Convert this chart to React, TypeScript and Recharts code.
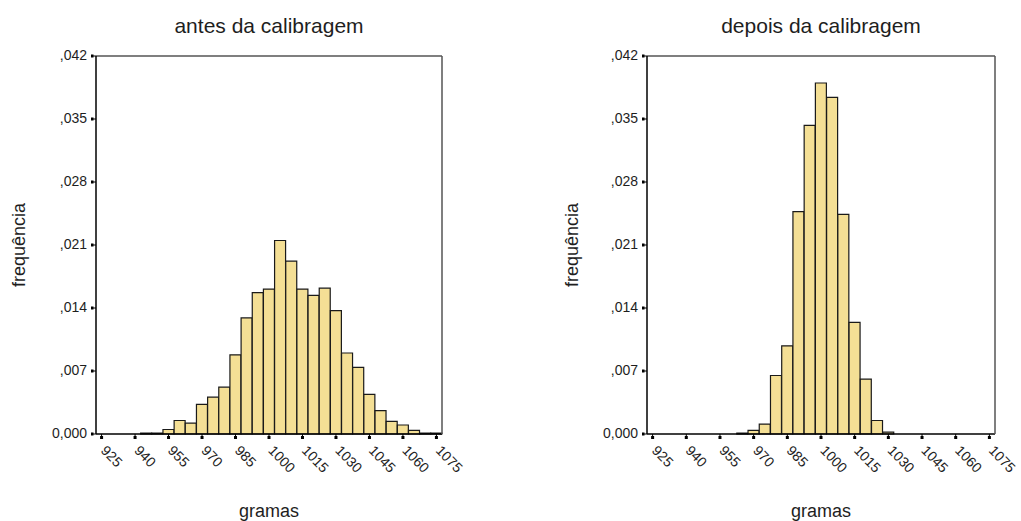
import { BarChart, Bar, XAxis, YAxis } from "recharts";

const FONT = "'Liberation Sans', Arial, sans-serif";
const BAR_FILL = "#f4df95";
const TEXT = "#1e1e1e";

// bin centres in grams (5 g bins)
const BINS = [
  925, 930, 935, 940, 945, 950, 955, 960, 965, 970, 975, 980, 985, 990, 995,
  1000, 1005, 1010, 1015, 1020, 1025, 1030, 1035, 1040, 1045, 1050, 1055,
  1060, 1065, 1070, 1075,
];
const X_TICKS = [925, 940, 955, 970, 985, 1000, 1015, 1030, 1045, 1060, 1075];
const Y_TICKS = [0, 0.007, 0.014, 0.021, 0.028, 0.035, 0.042];
const Y_TICK_LABELS = ["0,000", ",007", ",014", ",021", ",028", ",035", ",042"];

const ANTES = [
  0, 0, 0, 0, 0.0001, 0.0001, 0.0005, 0.0015, 0.0012, 0.0033, 0.0041, 0.0052,
  0.0088, 0.0129, 0.0157, 0.0161, 0.0215, 0.0192, 0.0161, 0.0154, 0.0162,
  0.0137, 0.009, 0.0074, 0.0044, 0.0026, 0.0014, 0.001, 0.0004, 0.0001, 0.0001,
];
const DEPOIS = [
  0, 0, 0, 0, 0, 0, 0, 0, 0.0001, 0.0004, 0.0011, 0.0065, 0.0098, 0.0247,
  0.0343, 0.039, 0.0374, 0.0244, 0.0124, 0.0061, 0.0015, 0.0002, 0, 0, 0, 0,
  0, 0, 0, 0, 0,
];

function XTick(props: any) {
  const { x, y, payload } = props;
  const tx = x + 6;
  const ty = y + 6;
  return (
    <g>
      <rect x={x - 1.5} y={y - 2} width={3} height={3} fill="#000" />
      <text
        x={tx}
        y={ty}
        transform={`rotate(46, ${tx}, ${ty})`}
        textAnchor="start"
        dominantBaseline="hanging"
        fontSize={14}
        fontFamily={FONT}
        fill={TEXT}
      >
        {payload.value}
      </text>
    </g>
  );
}

function YTick(props: any) {
  const { x, y, payload } = props;
  const idx = Y_TICKS.indexOf(payload.value);
  return (
    <g>
      <rect x={x} y={y - 1.5} width={2.5} height={3} fill="#000" />
      <text
        x={x - 4}
        y={y - 1}
        dy="0.35em"
        textAnchor="end"
        fontSize={14}
        fontFamily={FONT}
        fill={TEXT}
      >
        {Y_TICK_LABELS[idx]}
      </text>
    </g>
  );
}

interface PanelProps {
  title: string;
  values: number[];
  left: number;
  width: number;
  marginLeft: number;
  marginRight: number;
  yLabelX: number;
}

function Panel({ title, values, left, width, marginLeft, marginRight, yLabelX }: PanelProps) {
  const data = BINS.map((b, i) => ({ bin: b, freq: values[i] }));
  const plotLeft = marginLeft + 50;
  const plotRight = width - marginRight - 1;
  const centre = (plotLeft + plotRight) / 2;

  return (
    <div style={{ position: "absolute", left, top: 0, width, height: 521 }}>
      <BarChart
        width={width}
        height={521}
        data={data}
        barCategoryGap={0}
        margin={{ top: 55, right: marginRight, bottom: 47, left: marginLeft }}
      >
        <XAxis
          dataKey="bin"
          ticks={X_TICKS}
          interval={0}
          height={40}
          tickSize={4}
          tickMargin={0}
          tick={<XTick />}
          tickLine={{ stroke: "#000" }}
          axisLine={{ stroke: "#000", strokeWidth: 1.5 }}
        />
        <XAxis
          xAxisId="top"
          orientation="top"
          dataKey="bin"
          height={1}
          tick={false}
          tickLine={false}
          axisLine={{ stroke: "#555", strokeWidth: 1.5 }}
        />
        <YAxis
          type="number"
          domain={[0, 0.042]}
          ticks={Y_TICKS}
          interval={0}
          width={50}
          tickSize={5}
          tickMargin={0}
          tick={<YTick />}
          tickLine={{ stroke: "#000" }}
          axisLine={{ stroke: "#000", strokeWidth: 1.5 }}
        />
        <YAxis
          yAxisId="right"
          orientation="right"
          width={1}
          tick={false}
          tickLine={false}
          axisLine={{ stroke: "#555", strokeWidth: 1.5 }}
        />
        <Bar
          dataKey="freq"
          fill={BAR_FILL}
          stroke="#1a1a1a"
          strokeWidth={1.2}
          isAnimationActive={false}
        />
      </BarChart>
      <div
        style={{
          position: "absolute",
          left: centre - 150,
          width: 300,
          top: 15,
          fontSize: 21,
          lineHeight: "21px",
          textAlign: "center",
          color: TEXT,
          fontFamily: FONT,
        }}
      >
        {title}
      </div>
      <div
        style={{
          position: "absolute",
          left: centre - 100,
          width: 200,
          top: 502,
          fontSize: 18,
          lineHeight: "18px",
          textAlign: "center",
          color: TEXT,
          fontFamily: FONT,
        }}
      >
        gramas
      </div>
      <div
        style={{
          position: "absolute",
          left: yLabelX - 100,
          width: 200,
          top: 245 - 9,
          fontSize: 18,
          lineHeight: "18px",
          textAlign: "center",
          color: TEXT,
          fontFamily: FONT,
          transform: "rotate(-90deg)",
        }}
      >
        frequência
      </div>
    </div>
  );
}

export default function App() {
  return (
    <div
      style={{
        position: "absolute",
        left: 0,
        top: 0,
        width: 1021,
        height: 521,
        background: "#fff",
        overflow: "hidden",
      }}
    >
      <Panel
        title="antes da calibragem"
        values={ANTES}
        left={0}
        width={510}
        marginLeft={46}
        marginRight={67}
        yLabelX={19}
      />
      <Panel
        title="depois da calibragem"
        values={DEPOIS}
        left={510}
        width={511}
        marginLeft={87}
        marginRight={25}
        yLabelX={62}
      />
    </div>
  );
}
